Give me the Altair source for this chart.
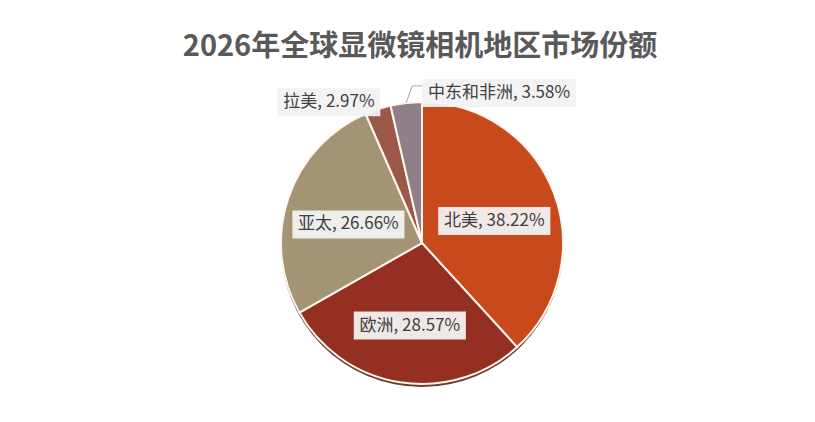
import math
import altair as alt
import pandas as pd

# ---- data ----
regions = ["北美", "欧洲", "亚太", "拉美", "中东和非洲"]
shares = [38.22, 28.57, 26.66, 2.97, 3.58]
colors = ["#C8491C", "#952F22", "#A39574", "#9C5949", "#8D8089"]
title_text = "2026年全球显微镜相机地区市场份额"

# ---- layout / style ----
W, H = 799, 406
CX, CY = 414, 235
R = 141
FONT = "Noto Sans CJK SC"
FS = 17
PADX = 6
BOXH = 28
label_mode = {"北美": "inside", "欧洲": "inside", "亚太": "inside",
              "拉美": "outside_left", "中东和非洲": "leader"}


def text_w(s):
    w = 0.0
    for ch in s:
        if ord(ch) > 0x2E80:
            w += 1.0
        elif ch.isdigit():
            w += 0.555
        elif ch in ",. ":
            w += 0.27
        elif ch == "%":
            w += 0.86
        else:
            w += 0.55
    return w * FS


total = sum(shares)
pie_df = pd.DataFrame({"region": regions, "share": shares, "idx": range(len(regions))})

lab_rows, lead_rows = [], []
cum = 0.0
for i, (reg, s) in enumerate(zip(regions, shares)):
    a0 = cum / total * 2 * math.pi
    cum += s
    a1 = cum / total * 2 * math.pi
    mid = (a0 + a1) / 2
    sx, sy = math.sin(mid), -math.cos(mid)
    label = f"{reg}, {s:.2f}%"
    bw = text_w(label) + 2 * PADX
    mode = label_mode[reg]
    if mode == "inside":
        r = 0.55 * R
        cx_, cy_ = CX + r * sx, CY + r * sy + 6
    elif mode == "outside_left":
        r = R + 5
        ax, ay = CX + r * sx, CY + r * sy
        cx_, cy_ = ax - bw / 2 + 4, ay - 2
    else:
        ex, ey = CX + R * sx, CY + R * sy
        elx, ely = ex + 6, ey - 17
        bx0 = elx + 10
        cx_, cy_ = bx0 + bw / 2, ely + 7
        for k, (px, py) in enumerate([(ex, ey), (elx, ely), (bx0, ely)]):
            lead_rows.append({"k": k, "x": px, "y": py, "region": reg})
    lab_rows.append({"region": reg, "label": label, "tx": cx_, "ty": cy_,
                     "x0": cx_ - bw / 2, "x1": cx_ + bw / 2,
                     "y0": cy_ - BOXH / 2, "y1": cy_ + BOXH / 2})

lab_df = pd.DataFrame(lab_rows)
lead_df = pd.DataFrame(lead_rows)
title_df = pd.DataFrame({"t": [title_text]})

xs = alt.Scale(domain=[0, W], nice=False, zero=False)
ys = alt.Scale(domain=[0, H], nice=False, zero=False, reverse=True)

shadow = alt.Chart(pie_df.head(1)).mark_arc(
    outerRadius=R, theta=0, theta2=2 * math.pi, color="#4A1A10", opacity=0.85
).encode(x=alt.value(CX), y=alt.value(CY + 3))

pie = alt.Chart(pie_df).mark_arc(
    outerRadius=R, stroke="#FFF6EE", strokeWidth=2
).encode(
    theta=alt.Theta("share:Q", stack=True),
    color=alt.Color("region:N", scale=alt.Scale(domain=regions, range=colors), legend=None),
    order=alt.Order("idx:Q"),
    x=alt.value(CX), y=alt.value(CY),
)

leader = alt.Chart(lead_df).mark_line(color="#A6A6A6", strokeWidth=1).encode(
    x=alt.X("x:Q", scale=xs, axis=None),
    y=alt.Y("y:Q", scale=ys, axis=None),
    order="k:Q",
)

boxes = alt.Chart(lab_df).mark_rect(color="#F2F2F2", opacity=0.95).encode(
    x=alt.X("x0:Q", scale=xs, axis=None), x2="x1:Q",
    y=alt.Y("y0:Q", scale=ys, axis=None), y2="y1:Q",
)

texts = alt.Chart(lab_df).mark_text(
    font=FONT, fontSize=FS, color="#404040", align="center", baseline="middle"
).encode(
    x=alt.X("tx:Q", scale=xs, axis=None),
    y=alt.Y("ty:Q", scale=ys, axis=None),
    text="label:N",
)

title = alt.Chart(title_df).mark_text(
    font=FONT, fontSize=29, fontWeight="bold", color="#595959",
    align="center", baseline="alphabetic"
).encode(x=alt.value(412), y=alt.value(48), text="t:N")

chart = alt.layer(shadow, pie, leader, boxes, texts, title).properties(
    width=W, height=H,
    autosize=alt.AutoSizeParams(type="none"),
    padding=0,
    background="white",
).configure_view(stroke=None)

chart.save("out.html", embed_options={"renderer": "svg", "actions": False})
